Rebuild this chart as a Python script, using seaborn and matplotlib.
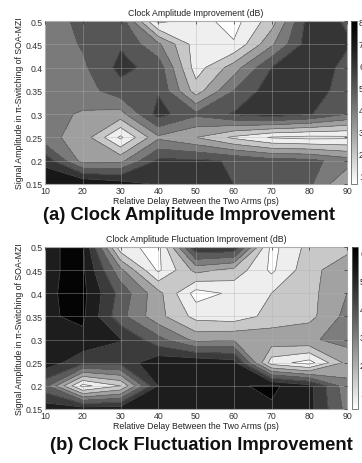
import numpy as np
import matplotlib
matplotlib.use("Agg")
import matplotlib.pyplot as plt
import seaborn as sns
from matplotlib.colors import Normalize, LinearSegmentedColormap
from matplotlib.cm import ScalarMappable

# ---------------- data ----------------
delay_ps = [10, 20, 30, 40, 50, 60, 70, 80, 90]
signal_amp = [0.15, 0.20, 0.25, 0.30, 0.35, 0.40, 0.45, 0.50]

# Clock amplitude improvement (dB), rows = signal_amp, cols = delay_ps
amp_improvement = [
    [7.8, 8.0, 7.5, 6.9, 6.5, 6.0, 5.5, 5.2, 3.0],
    [6.7, 3.6, 3.7, 6.2, 6.2, 5.9, 5.4, 5.3, 4.5],
    [4.3, 3.6, 0.8, 3.8, 3.0, 1.8, 0.9, 0.7, 0.8],
    [4.3, 3.9, 3.6, 6.4, 5.2, 6.1, 6.6, 6.1, 5.0],
    [4.3, 4.5, 5.6, 5.9, 2.5, 5.0, 6.6, 6.7, 5.4],
    [4.2, 4.8, 6.3, 5.6, 1.5, 3.5, 6.0, 6.7, 5.7],
    [4.3, 5.1, 5.9, 4.2, 1.5, 1.1, 3.8, 6.6, 6.1],
    [4.4, 5.3, 5.6, 0.7, 1.4, 0.6, 2.5, 6.5, 5.9],
]

# Clock amplitude fluctuation improvement (dB)
fluct_improvement = [
    [5.7, 5.7, 5.7, 5.8, 5.8, 5.8, 5.9, 5.5, 3.5],
    [4.0, 0.5, 1.5, 5.3, 5.9, 5.9, 6.15, 5.5, 3.25],
    [5.7, 4.75, 4.75, 5.8, 5.9, 5.6, 1.1, 0.45, 2.5],
    [5.7, 5.8, 5.3, 4.0, 2.75, 2.9, 2.75, 2.9, 3.25],
    [5.9, 6.15, 4.0, 2.5, 1.25, 1.1, 1.75, 2.0, 3.25],
    [5.9, 6.2, 4.25, 2.5, 0.43, 0.9, 1.5, 2.0, 3.0],
    [5.9, 6.15, 3.2, 0.6, 2.5, 2.0, 0.6, 2.0, 2.75],
    [5.9, 6.15, 1.0, 0.5, 5.15, 5.15, 0.5, 1.75, 2.0],
]

amp_levels = [1, 2, 3, 4, 5, 6, 7]
fluct_levels = [0.75, 1.5, 2.25, 3.0, 3.75, 4.5, 5.25, 6.0]
amp_cbar_ticks = [1, 2, 3, 4, 5, 6, 7, 8]
fluct_cbar_ticks = [1, 2, 3, 4, 5, 6]

x_ticks = [10, 20, 30, 40, 50, 60, 70, 80, 90]
y_ticks = [0.15, 0.2, 0.25, 0.3, 0.35, 0.4, 0.45, 0.5]
y_ticklabels = ["0.15", "0.2", "0.25", "0.3", "0.35", "0.4", "0.45", "0.5"]

# ---------------- style ----------------
sns.set_style("white")
plt.rcParams["font.family"] = ["Liberation Sans", "DejaVu Sans"]

W, H = 362, 464
fig = plt.figure(figsize=(W / 100, H / 100), dpi=100)

# inverted gray map with a slight gamma (dark end deeper)
_t = np.linspace(0, 1, 256)
_g = (1 - _t) ** 1.2
cmap = LinearSegmentedColormap.from_list("gray_gamma", np.stack([_g, _g, _g], axis=1))


def panel(ax_rect, cax_rect, Z, inner_levels, cticks, title):
    Z = np.array(Z, dtype=float)
    zmin, zmax = Z.min(), Z.max()
    levels = [zmin] + list(inner_levels) + [zmax]
    colors = [cmap((lv - zmin) / (zmax - zmin)) for lv in levels[:-1]]
    ax = fig.add_axes(ax_rect)
    X, Y = np.meshgrid(delay_ps, signal_amp)
    ax.contourf(X, Y, Z, levels=levels, colors=colors)
    ax.contour(X, Y, Z, levels=inner_levels, colors="#5a5a5a", linewidths=0.45)
    ax.set_xlim(10, 90)
    ax.set_ylim(0.15, 0.5)
    ax.set_xticks(x_ticks)
    ax.set_yticks(y_ticks)
    ax.set_yticklabels(y_ticklabels)
    ax.tick_params(direction="in", length=2.5, width=0.5, top=True, right=True,
                   labelsize=6.3, pad=1.5, colors="#333333")
    ax.grid(True, color="#b0b0b0", linewidth=0.5, alpha=0.55)
    ax.set_axisbelow(False)
    for sp in ax.spines.values():
        sp.set_color("#aaaaaa")
        sp.set_linewidth(0.8)
    ax.set_title(title, fontsize=6.3, pad=4, color="#222222")
    ax.set_xlabel("Relative Delay Between the Two Arms (ps)", fontsize=6.3,
                  labelpad=0.5, color="#222222")
    ax.set_ylabel("Signal Amplitude in \u03c0-Switching of SOA-MZI", fontsize=6.3,
                  labelpad=1, color="#222222")
    cax = fig.add_axes(cax_rect)
    sm = ScalarMappable(norm=Normalize(zmin, zmax), cmap=cmap)
    cb = fig.colorbar(sm, cax=cax, ticks=cticks)
    cb.outline.set_linewidth(0.6)
    cb.outline.set_edgecolor("#666666")
    cax.tick_params(direction="in", length=2, width=0.5, labelsize=6.3, pad=1.5)
    return ax


def fx(px):
    return px / W


def fy(py):
    return 1 - py / H


ax_l, ax_r = 45, 347
panel([fx(ax_l), fy(185), fx(ax_r - ax_l), (185 - 22) / H],
      [fx(351), fy(185), fx(6), (185 - 22) / H],
      amp_improvement, amp_levels, amp_cbar_ticks,
      "Clock Amplitude Improvement (dB)")
panel([fx(ax_l), fy(410), fx(ax_r - ax_l), (410 - 248) / H],
      [fx(352), fy(410), fx(6), (410 - 248) / H],
      fluct_improvement, fluct_levels, fluct_cbar_ticks,
      "Clock Amplitude Fluctuation Improvement (dB)")

fig.text(fx(189), fy(216), "(a) Clock Amplitude Improvement", ha="center", va="center",
         fontsize=13.2, fontweight="bold", color="#111111")
fig.text(fx(201), fy(446), "(b) Clock Fluctuation Improvement", ha="center", va="center",
         fontsize=13.2, fontweight="bold", color="#111111")

fig.savefig("out.png", dpi=100, facecolor="white")
